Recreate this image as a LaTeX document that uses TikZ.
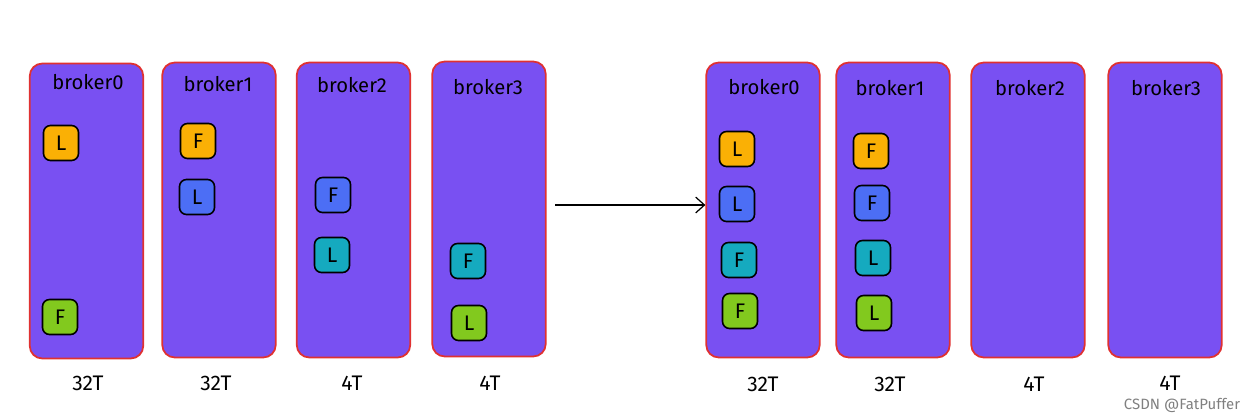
\documentclass[tikz,border=0pt]{standalone}
\usepackage{fontspec}
\setmainfont{Fira Sans}
\usetikzlibrary{arrows.meta}

\definecolor{brokerfill}{HTML}{7950F2}
\definecolor{brokerline}{HTML}{E03131}
\definecolor{porange}{HTML}{FAB005}
\definecolor{pblue}{HTML}{4C6EF5}
\definecolor{pteal}{HTML}{15AABF}
\definecolor{pgreen}{HTML}{82C91E}

\begin{document}
\begin{tikzpicture}[x=0.02cm, y=-0.02cm,
  broker/.style={draw=brokerline, fill=brokerfill, line width=1pt,
    rounded corners=0.25cm, minimum width=2.27cm, minimum height=5.9cm},
  bname/.style={font=\fontsize{11.5}{13}\selectfont, inner sep=0pt},
  disksize/.style={font=\fontsize{12}{14}\selectfont, inner sep=0pt},
  part/.style={draw=black, line width=0.9pt, rounded corners=0.14cm,
    minimum size=0.7cm, inner sep=0pt, font=\fontsize{12}{14}\selectfont}]
  \useasboundingbox (0,0) rectangle (1255,419);

  % before
  \node[broker] (lb0) at (86.5, 211) {};
  \node[broker] (lb1) at (219, 210) {};
  \node[broker] (lb2) at (353.5, 210) {};
  \node[broker] (lb3) at (489, 209) {};
  \node[bname] (lb0n) at (88, 82) {broker0};
  \node[bname] (lb1n) at (218, 84) {broker1};
  \node[bname] (lb2n) at (352, 85) {broker2};
  \node[bname] (lb3n) at (488, 87) {broker3};

  \node[part, fill=porange] (l0a) at (61, 143) {L};
  \node[part, fill=pgreen]  (l0b) at (60, 317) {F};
  \node[part, fill=porange] (l1a) at (198, 141) {F};
  \node[part, fill=pblue]   (l1b) at (197, 197) {L};
  \node[part, fill=pblue]   (l2a) at (333, 195) {F};
  \node[part, fill=pteal]   (l2b) at (332, 255) {L};
  \node[part, fill=pteal]   (l3a) at (468, 261) {F};
  \node[part, fill=pgreen]  (l3b) at (469, 323) {L};

  \node[disksize] (lc0) at (88, 383) {32T};
  \node[disksize] (lc1) at (216, 383) {32T};
  \node[disksize] (lc2) at (352, 383) {4T};
  \node[disksize] (lc3) at (490, 383) {4T};

  % after
  \node[broker] (rb0) at (763, 210) {};
  \node[broker] (rb1) at (893, 210) {};
  \node[broker] (rb2) at (1028, 210) {};
  \node[broker] (rb3) at (1165, 210) {};
  \node[bname] (rb0n) at (764, 87) {broker0};
  \node[bname] (rb1n) at (890, 88) {broker1};
  \node[bname] (rb2n) at (1030, 88) {broker2};
  \node[bname] (rb3n) at (1166, 88) {broker3};

  \node[part, fill=porange] (r0a) at (737, 149) {L};
  \node[part, fill=pblue]   (r0b) at (737, 204) {L};
  \node[part, fill=pteal]   (r0c) at (739, 260) {F};
  \node[part, fill=pgreen]  (r0d) at (740, 311) {F};
  \node[part, fill=porange] (r1a) at (871, 151) {F};
  \node[part, fill=pblue]   (r1b) at (872, 203) {F};
  \node[part, fill=pteal]   (r1c) at (873, 258) {L};
  \node[part, fill=pgreen]  (r1d) at (874, 313) {L};

  \node[disksize] (rc0) at (763, 384) {32T};
  \node[disksize] (rc1) at (890, 384) {32T};
  \node[disksize] (rc2) at (1034, 384) {4T};
  \node[disksize] (rc3) at (1170, 383) {4T};

  \draw[-{Straight Barb[length=5pt, width=9pt]}, line width=0.7pt, shorten <=5pt]
    (lb3.east |- 0,205) -- (rb0.west |- 0,205);

  \node[text=gray, font=\fontsize{8.5}{10}\selectfont, inner sep=0pt] (mark) at (1182, 405) {CSDN @FatPuffer};
\end{tikzpicture}
\end{document}
